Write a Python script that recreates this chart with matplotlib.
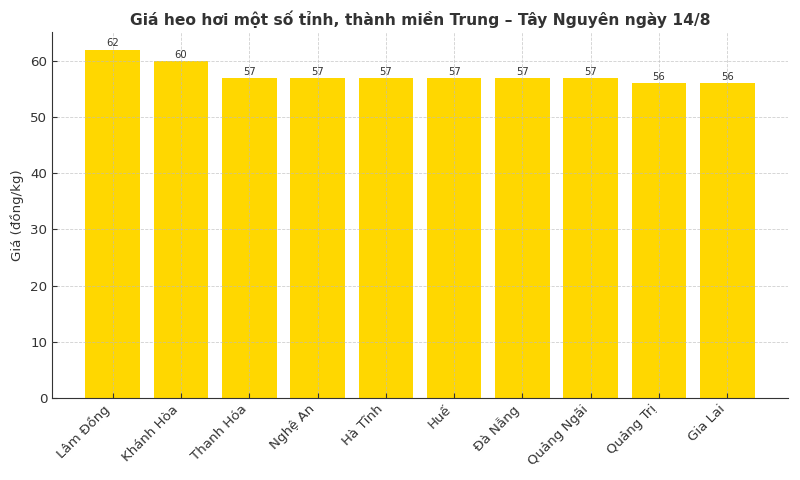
import matplotlib
matplotlib.use("Agg")
import matplotlib.pyplot as plt

provinces = ["Lâm Đồng", "Khánh Hòa", "Thanh Hóa", "Nghệ An", "Hà Tĩnh",
             "Huế", "Đà Nẵng", "Quảng Ngãi", "Quảng Trị", "Gia Lai"]
prices = [62, 60, 57, 57, 57, 57, 57, 57, 56, 56]


def main():
    plt.rcParams['font.family'] = ['DejaVu Sans']
    fig = plt.figure(figsize=(8, 4.8), dpi=100)
    ax = fig.add_axes([0.065, 0.171, 0.92, 0.762])

    bars = ax.bar(provinces, prices, color='#FFD700', width=0.8, zorder=1)
    ax.grid(True, linestyle='--', linewidth=0.6, color='#bbbbbb', alpha=0.7, zorder=2)
    ax.set_axisbelow(False)

    for b, v in zip(bars, prices):
        ax.text(b.get_x() + b.get_width() / 2, v + 0.2, str(v),
                ha='center', va='bottom', fontsize=7.2, color='#333333')

    ax.set_title("Giá heo hơi một số tỉnh, thành miền Trung – Tây Nguyên ngày 14/8",
                 fontsize=11.2, fontweight='bold', color='#333333', pad=5)
    ax.set_ylabel("Giá (đồng/kg)", fontsize=9.6, color='#333333')
    ax.spines['top'].set_visible(False)
    ax.spines['right'].set_visible(False)
    ax.spines['left'].set_color('#333333')
    ax.spines['bottom'].set_color('#333333')
    ax.tick_params(colors='#333333', labelsize=9.6, direction='in', length=3.5)
    plt.setp(ax.get_xticklabels(), rotation=45, ha='right')

    fig.savefig("out.png")


if __name__ == '__main__':
    main()
